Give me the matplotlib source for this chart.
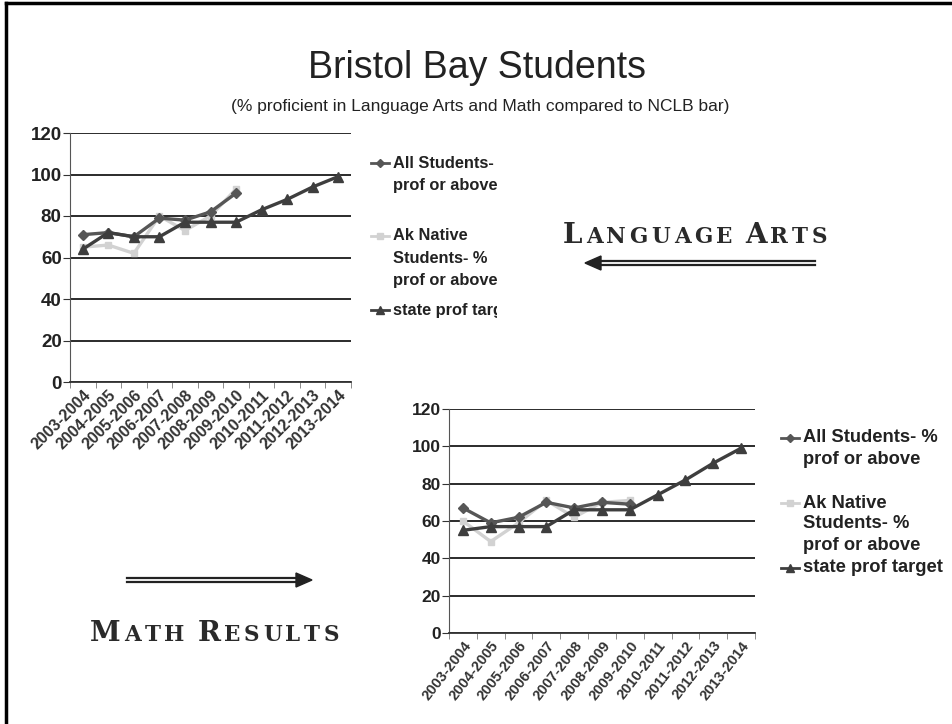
import matplotlib
matplotlib.use('Agg')
import matplotlib.pyplot as plt
from matplotlib.transforms import Bbox

plt.rcParams['font.family'] = ['Liberation Sans', 'DejaVu Sans']

# --- data ---
years = ['2003-2004', '2004-2005', '2005-2006', '2006-2007', '2007-2008',
         '2008-2009', '2009-2010', '2010-2011', '2011-2012', '2012-2013',
         '2013-2014']

# Language Arts
la_all = [71, 72, 70, 79, 78, 82, 91]
la_native = [65, 66, 62, 80, 73, 80, 93]
la_target = [64, 72, 70, 70, 77, 77, 77, 83, 88, 94, 99]

# Math
m_all = [67, 59, 62, 70, 67, 70, 69]
m_native = [60, 49, 59, 71, 62, 70, 71]
m_target = [55, 57, 57, 57, 66, 66, 66, 74, 82, 91, 99]

legend_labels = ['All Students- %\nprof or above',
                 'Ak Native\nStudents- %\nprof or above',
                 'state prof target']

C_ALL = '#565656'
C_NAT = '#d2d2d2'
C_TGT = '#3e3e3e'

W, H = 952, 724
fig = plt.figure(figsize=(W / 100, H / 100), dpi=100)

# overlay in pixel coordinates
ov = fig.add_axes([0, 0, 1, 1])
ov.set_xlim(0, W)
ov.set_ylim(H, 0)
ov.axis('off')

# slide border
ov.plot([6, 6], [3, H], color='black', lw=2.5)
ov.plot([6, W], [3, 3], color='black', lw=2.5)

ov.text(477, 68, 'Bristol Bay Students', ha='center', va='center',
        fontsize=27, color='#222222')
ov.text(480, 106, '(% proficient in Language Arts and Math compared to NCLB bar)',
        ha='center', va='center', fontsize=12.5, color='#222222')


def small_caps(x, y, text, big, small, track=3.5, color='#2a2a2a'):
    # fake small caps: first letter of each word larger
    renderer = fig.canvas.get_renderer()
    cx = x
    for w_i, word in enumerate(text.split(' ')):
        if w_i > 0:
            t = ov.text(cx, y, ' ', fontsize=small, family='DejaVu Serif', va='baseline')
            cx += t.get_window_extent(renderer).width * 0.9 + track
            t.remove()
        for k, ch in enumerate(word):
            fs = big if k == 0 else small
            t = ov.text(cx, y, ch, fontsize=fs, family='DejaVu Serif', weight='bold',
                        va='baseline', ha='left', color=color)
            cx += t.get_window_extent(renderer).width + track


small_caps(563, 243, 'LANGUAGE ARTS', 20, 15.5)
small_caps(90, 641, 'MATH RESULTS', 20, 15.5)


def double_arrow(x0, x1, y):
    # double-line shaft with solid head, pointing from x0 to x1
    d = 1 if x1 > x0 else -1
    head = 16
    ov.plot([x0, x1 - d * head * 0.6], [y - 2, y - 2], color='#222222', lw=1.6)
    ov.plot([x0, x1 - d * head * 0.6], [y + 2, y + 2], color='#222222', lw=1.6)
    ov.fill([x1, x1 - d * head, x1 - d * head], [y, y - 7, y + 7], color='#222222')


double_arrow(815, 585, 263)
double_arrow(127, 312, 580)


def chart(rect, allv, nat, tgt, ysize, xsize, rot):
    ax = fig.add_axes(rect)
    ax.set_facecolor('none')
    x = list(range(len(years)))
    ax.plot(x[:len(allv)], allv, color=C_ALL, lw=2.4, marker='D', ms=5, zorder=3)
    ax.plot(x[:len(nat)], nat, color=C_NAT, lw=2.4, marker='s', ms=4.5, zorder=2)
    ax.plot(x, tgt, color=C_TGT, lw=2.4, marker='^', ms=7, zorder=4)
    ax.set_xlim(-0.5, len(years) - 0.5)
    ax.set_ylim(0, 120)
    ax.set_yticks(range(0, 121, 20))
    ax.yaxis.grid(True, color='#1a1a1a', lw=1.3)
    ax.set_axisbelow(True)
    for s in ['top', 'right']:
        ax.spines[s].set_visible(False)
    ax.spines['left'].set_color('#555555')
    ax.spines['bottom'].set_color('#333333')
    ax.spines['bottom'].set_linewidth(1.3)
    ax.set_xticks(x)
    ax.set_xticklabels(years, rotation=rot, ha='right', va='top', rotation_mode='anchor',
                       fontsize=xsize, fontweight='bold', color='#333333')
    ax.set_xticks([i - 0.5 for i in range(len(years) + 1)], minor=True)
    ax.tick_params(axis='x', which='major', length=0, pad=4)
    ax.tick_params(axis='x', which='minor', length=4, color='#777777', direction='out')
    ax.tick_params(axis='y', length=5, color='#333333', labelsize=ysize, pad=1)
    for lab in ax.get_yticklabels():
        lab.set_fontweight('bold')
        lab.set_color('#222222')
    return ax


chart([70 / W, 1 - 382 / H, 281 / W, 249 / H], la_all, la_native, la_target, 13.5, 11.5, 45)
chart([449 / W, 1 - 633 / H, 306 / W, 224 / H], m_all, m_native, m_target, 12.5, 10.5, 52)


def legend(x, ys, fs, step, clip_x=None):
    # ys: center y of each entry's first text line
    styles = [(C_ALL, 'D', 4), (C_NAT, 's', 4), (C_TGT, '^', 5.5)]
    for (col, mk, ms), y0, lab in zip(styles, ys, legend_labels):
        ov.plot([x - 22, x - 4], [y0, y0], color=col, lw=2)
        ov.plot([x - 13], [y0], color=col, marker=mk, ms=ms)
        for j, line in enumerate(lab.split('\n')):
            t = ov.text(x, y0 + j * step, line, fontsize=fs, fontweight='bold',
                        va='center', ha='left', color='#222222')
            if clip_x is not None:
                t.set_clip_box(Bbox([[0, 0], [clip_x, H]]))
                t.set_clip_on(True)


legend(393, [163, 236, 310], 11.8, 22.5, clip_x=497)
legend(803, [438, 503, 568], 13.2, 21)

fig.savefig('out.png', dpi=100)
